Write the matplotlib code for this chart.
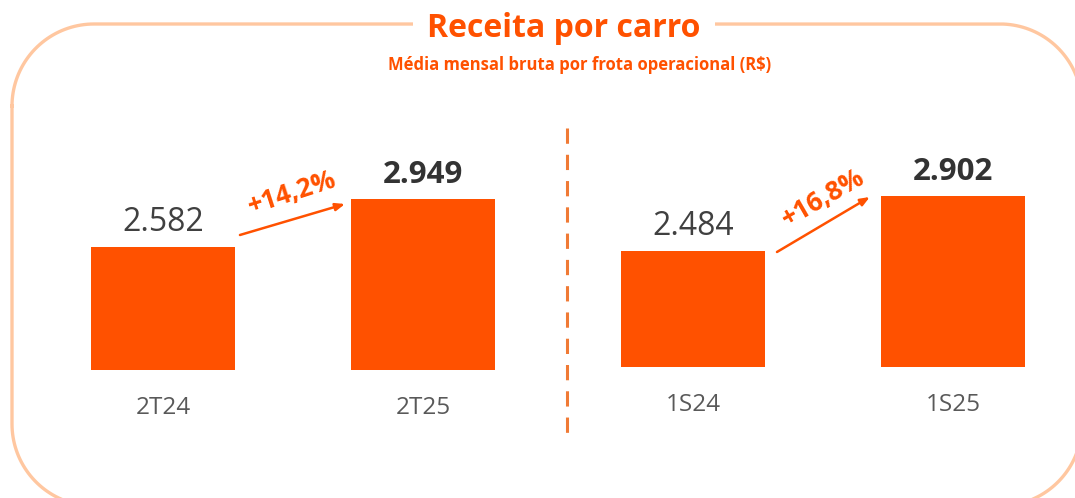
import numpy as np
import matplotlib
matplotlib.use("Agg")
import matplotlib.pyplot as plt

plt.rcParams["font.family"] = ["Open Sans", "DejaVu Sans"]

# ── Data ──────────────────────────────────────────────────────────────────────
TITLE    = "Receita por carro"
SUBTITLE = "Média mensal bruta por frota operacional (R$)"

q_labels  = ["2T24", "2T25"]
q_values  = [2582, 2949]
q_growth  = "+14,2%"

s_labels  = ["1S24", "1S25"]
s_values  = [2484, 2902]
s_growth  = "+16,8%"

def fmt_br(v):
    return f"{v:,}".replace(",", ".")

ORANGE = "#FF5100"
FRAME  = "#FFC7A0"
DIVIDE = "#F07A35"
DARK   = "#404040"
GREY   = "#595959"

W, H, DPI = 1075, 498, 100
fig = plt.figure(figsize=(W / DPI, H / DPI), dpi=DPI)


def rounded_outline(x0, y0, x1, y1, r, n=40):
    # corner centres, going clockwise in screen space (y down)
    pts = []
    for cx, cy, a0 in [(x0 + r, y0 + r, 180), (x1 - r, y0 + r, 270),
                       (x1 - r, y1 - r, 0), (x0 + r, y1 - r, 90)]:
        t = np.deg2rad(np.linspace(a0, a0 + 90, n))
        pts.append(np.column_stack([cx + r * np.cos(t), cy + r * np.sin(t)]))
    pts = np.vstack(pts + [pts[0][:1]])
    return pts[:, 0], pts[:, 1]


# ── Background: rounded frame, title, divider (pixel coordinates) ───────────
bg = fig.add_axes([0, 0, 1, 1], zorder=0)
bg.set_xlim(0, W); bg.set_ylim(H, 0); bg.axis("off")
fx, fy = rounded_outline(12, 24, 1082, 506, 82)
bg.plot(fx, fy, color=FRAME, lw=2.4, clip_on=False)
bg.text(564, 37, TITLE, ha="center", va="baseline", fontsize=23,
        fontweight="bold", color=ORANGE,
        bbox=dict(boxstyle="square,pad=0.45", fc="white", ec="none"))
bg.text(580, 70, SUBTITLE, ha="center", va="baseline", fontsize=12,
        fontweight="bold", color=ORANGE)
bg.plot([567, 567], [128, 442], color=DIVIDE, lw=2.2, ls=(0, (5, 3.6)))


def panel(rect, ylim, labels, values, growth, arrow, angle, bold_idx=1):
    ax = fig.add_axes(rect, zorder=1)
    ax.patch.set_alpha(0)
    x = range(len(values))
    ax.bar(x, values, width=0.555, color=ORANGE)
    ax.set_xlim(-0.4, 1.4)
    ax.set_ylim(*ylim)
    for s in ax.spines.values():
        s.set_visible(False)
    ax.set_yticks([])
    ax.set_xticks(list(x))
    ax.set_xticklabels(labels, fontsize=17.5, color=GREY)
    ax.tick_params(axis="x", length=0, pad=19)
    for i, v in enumerate(values):
        bold = i == bold_idx
        ax.annotate(fmt_br(v), (i, v), xytext=(0, 11.5), textcoords="offset points",
                    ha="center", va="baseline",
                    fontsize=22.5 if bold else 23,
                    fontweight="bold" if bold else "normal",
                    color="#333333" if bold else DARK)
    (x0, y0), (x1, y1) = arrow
    ax.annotate("", xy=(x1, y1), xytext=(x0, y0),
                arrowprops=dict(arrowstyle="-|>,head_length=0.55,head_width=0.22",
                                color=ORANGE, lw=1.8, shrinkA=0, shrinkB=0))
    ax.annotate(growth, ((x0 + x1) / 2, (y0 + y1) / 2), xytext=(0, 19),
                textcoords="offset points", ha="center", va="center",
                rotation=angle, rotation_mode="anchor",
                fontsize=19, fontweight="bold", color=ORANGE)
    return ax


panel([59 / W, (H - 370) / H, 468 / W, 250 / H], (1642, 3553),
      q_labels, q_values, q_growth,
      ((0.296, q_values[0] + 92), (0.70, q_values[1] - 38)), 18)

panel([589 / W, (H - 367) / H, 468 / W, 247 / H], (1603, 3480),
      s_labels, s_values, s_growth,
      ((0.323, s_values[0] - 7), (0.68, s_values[1] - 7)), 30)

fig.savefig("out.png", dpi=DPI)
